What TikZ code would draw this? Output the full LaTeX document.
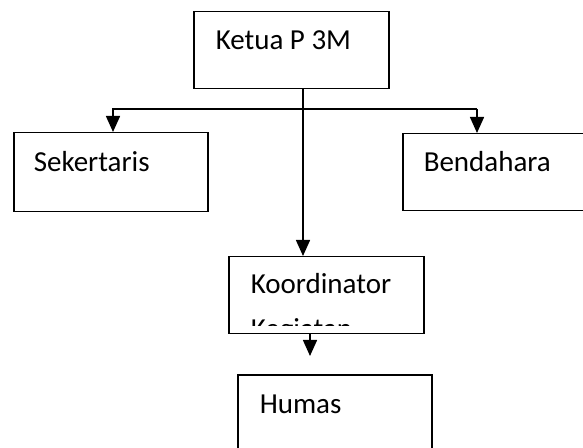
\documentclass[tikz,border=0pt]{standalone}
\usepackage{fontspec}
\setmainfont{Carlito}
\usetikzlibrary{calc,arrows.meta}

\begin{document}
\begin{tikzpicture}[x=0.5pt, y=-0.5pt, line width=0.75pt,
  kotak/.style={draw, anchor=north west, inner sep=0pt, minimum width=97.5pt, minimum height=38.5pt},
  teks/.style={anchor=base west, inner sep=0pt, font=\fontsize{14.5pt}{17pt}\selectfont},
  panah/.style={-{Triangle[length=8pt,width=7pt]}}]
\useasboundingbox (0,0) rectangle (583,448);
\node[kotak] (ketua) at (193,11) {};
\node[kotak, minimum width=97pt, minimum height=39.5pt] (sek) at (13,132) {};
\node[kotak] (bend) at (402,133) {};
\node[kotak] (koord) at (228,256) {};
\node[kotak, minimum width=97pt] (humas) at (237,374) {};
\node[teks] (tketua) at (215,50) {Ketua P 3M};
\node[teks] (tsek) at (33,172) {Sekertaris};
\node[teks] (tbend) at (423,172) {Bendahara};
\node[teks] (thumas) at (259,413) {Humas};
\begin{scope}
\clip (koord.north west) rectangle ([yshift=4.5pt]koord.south east);
\node[teks] (tkoord) at (250,294) {Koordinator};
\node[teks] (tkeg) at (250,339) {Kegiatan}; % baris kedua terpotong kotak
\end{scope}
\coordinate (kiri) at (113,109);
\coordinate (kanan) at (477,109);
\coordinate (tengah) at (303,109);
\coordinate (ujung) at (310,356);
\draw[panah] (ketua.south -| tengah) -- (tengah |- koord.north);
\draw[panah] (kanan) -- (kiri) -- (kiri |- sek.north);
\draw[panah] (kanan) -- (kanan |- bend.north);
\draw[panah] (koord.south -| ujung) -- (ujung);
\end{tikzpicture}
\end{document}
